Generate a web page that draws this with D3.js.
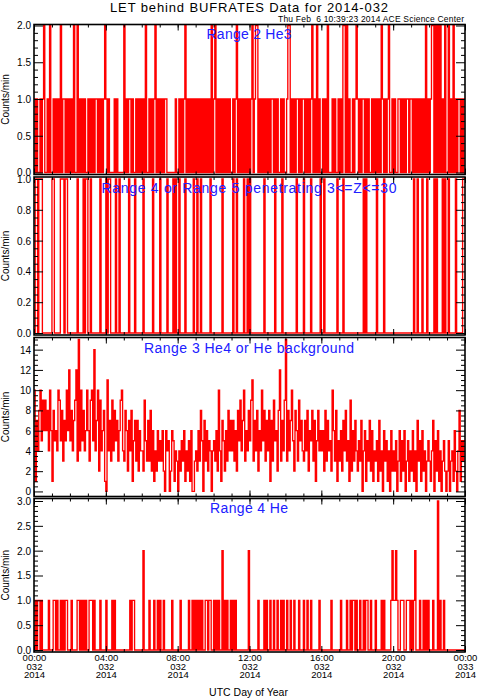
<!DOCTYPE html>
<html>
<head>
<meta charset="utf-8">
<style>
body { margin: 0; background: #fff; }
text { font-family: "Liberation Sans", Arial, sans-serif; }
</style>
</head>
<body>
<svg id="chart"></svg>
<script src="https://d3js.org/d3.v7.min.js"></script>
<script>

// one string per UTC hour, one character per 4 minute bin (hex counts/min)
const BIN = 4;

const range2He3 = [
  "101001012001020", "010101020110101", "010200201010100", "101010110101012",
  "101000010100000", "201011010010101", "010200101012010", "101011000000010",
  "010101201010101", "010101010101020", "120101010101010", "010120101010101",
  "012012201010101", "010110101001010", "012201010110101", "101010120102010",
  "010102000101001", "010220201001012", "101011010100101", "010102101012001",
  "010011010101101", "101010101010201", "012202020201020", "020102010110101"
];

const range45Pen = [
  "011011100000000", "110000011101100", "000000100001011", "001000000010000",
  "101100001001000", "000010000100000", "010000000100000", "100000100001010",
  "010000100000010", "010010000000100", "000000010000000", "010010000010010",
  "100000000000100", "000000100000100", "000000000100000", "100000100000001",
  "001000000000010", "000100000000000", "000001010000000", "010000010000000",
  "000000000000000", "001001000100010", "000010100001010", "010000010000011"
];

const range3He4 = [
  "a1748a5969684a6", "18564a958375a6c", "58479c3f4a5846a", "639a5e47a294681",
  "0b47394857369a4", "386274815737264", "429537382614263", "536206450265143",
  "042536142516003", "426385073625404", "5362a4175263847", "4736285947a3648",
  "59b3748264a5837", "4817395628c3749", "f3847a528639574", "374826583715846",
  "462837452a63815", "362748351926374", "253704615372614", "351724063514062",
  "425036152603514", "261407351624035", "314705261403520", "250341620481535"
];

const range4He = [
  "010110100000100", "011010010101100", "010000110101010", "011101000010000",
  "100001010000000", "000001011000000", "020000100010010", "100100000010000",
  "001000000100101", "010101001101100", "101010020101001", "010100000000002",
  "000000010000101", "001001001001010", "010010010001000", "100100100000010",
  "000000001000000", "010000100101101", "001001011001000", "100001010000012",
  "112100111001110", "101200010010101", "000100030100100", "000000000000000"
];

const panelTitles = [
  "Range 2 He3",
  "Range 4 or Range 5 penetrating 3<=Z<=30",
  "Range 3 He4 or He background",
  "Range 4 He"
];

const yTicks1 = [0, 0.5, 1, 1.5, 2];
const yTicks2 = [0, 0.2, 0.4, 0.6, 0.8, 1];
const yTicks3 = [0, 2, 4, 6, 8, 10, 12, 14];
const yTicks4 = [0, 0.5, 1, 1.5, 2, 2.5, 3];

const xTickTimes = ["00:00", "04:00", "08:00", "12:00", "16:00", "20:00", "00:00"];
const xTickDays  = ["032", "032", "032", "032", "032", "032", "033"];
const xTickYears = ["2014", "2014", "2014", "2014", "2014", "2014", "2014"];

const W = 478, H = 700;
const svg = d3.select("#chart").attr("width", W).attr("height", H);
svg.append("rect").attr("width", W).attr("height", H).attr("fill", "#fff");

let x = d3.scaleLinear().domain([0, 1440]).range([34, 465]);

let panels = [
  {rows: range2He3, top: 24.5, bottom: 174.5, domain: [0, 2], range: [172.5, 25.5],
   ticks: yTicks1, minor: 0.1, fmt: d3.format(".1f"), title: panelTitles[0], ty: 38.5, tw: 85},
  {rows: range45Pen, top: 177, bottom: 335, domain: [0, 1], range: [333, 179],
   ticks: yTicks2, minor: 0.05, fmt: d3.format(".1f"), title: panelTitles[1], ty: 193, tw: 295},
  {rows: range3He4, top: 337.5, bottom: 496.5, domain: [-0.5, 15.2], range: [496.5, 337.5],
   ticks: yTicks3, minor: 0.5, fmt: d3.format("d"), title: panelTitles[2], ty: 352.5, tw: 210},
  {rows: range4He, top: 498.5, bottom: 652, domain: [0, 3], range: [650, 501],
   ticks: yTicks4, minor: 0.1, fmt: d3.format(".1f"), title: panelTitles[3], ty: 513, tw: 78}
];

const hourMinor = d3.range(0, 1441, 60);
const hourMajor = d3.range(0, 1441, 240);

panels.forEach((p, k) => {
  let y = d3.scaleLinear().domain(p.domain).range(p.range);
  let g = svg.append("g");

  // data as a step line
  let vals = p.rows.join("").split("").map(c => parseInt(c, 16));
  let pts = vals.map((v, i) => [i * BIN, v]);
  pts.push([1440, vals[vals.length - 1]]);

  g.append("clipPath").attr("id", "clip" + k)
    .append("rect")
    .attr("x", 34).attr("y", p.top)
    .attr("width", 431).attr("height", p.bottom - p.top);

  let line = d3.line()
    .x(d => x(d[0]))
    .y(d => y(d[1]))
    .curve(d3.curveStepAfter);

  g.append("path")
    .datum(pts)
    .attr("clip-path", "url(#clip" + k + ")")
    .attr("fill", "none")
    .attr("stroke", "#ff0000")
    .attr("stroke-width", 1.35)
    .attr("d", line);

  // y axes, ticks pointing inward on both sides
  let minors = d3.range(Math.ceil(p.domain[0] / p.minor) * p.minor, p.domain[1] + 1e-6, p.minor)
    .filter(v => v >= 0 && !p.ticks.some(t => Math.abs(t - v) < 1e-6));

  g.append("g").attr("transform", "translate(34,0)")
    .call(d3.axisLeft(y).tickValues(p.ticks).tickSize(-9).tickPadding(3).tickFormat(p.fmt));
  g.append("g").attr("transform", "translate(34,0)")
    .call(d3.axisLeft(y).tickValues(minors).tickSize(-4).tickFormat(""));
  g.append("g").attr("transform", "translate(465,0)")
    .call(d3.axisRight(y).tickValues(p.ticks).tickSize(-9).tickFormat(""));
  g.append("g").attr("transform", "translate(465,0)")
    .call(d3.axisRight(y).tickValues(minors).tickSize(-4).tickFormat(""));

  // x axes top and bottom
  g.append("g").attr("transform", "translate(0," + p.bottom + ")")
    .call(d3.axisBottom(x).tickValues(hourMinor).tickSize(-3).tickFormat(""));
  g.append("g").attr("transform", "translate(0," + p.bottom + ")")
    .call(d3.axisBottom(x).tickValues(hourMajor).tickSize(-6).tickFormat(""))
    .attr("class", k === 3 ? "xlab" : null);
  g.append("g").attr("transform", "translate(0," + p.top + ")")
    .call(d3.axisTop(x).tickValues(hourMinor).tickSize(-3).tickFormat(""));
  g.append("g").attr("transform", "translate(0," + p.top + ")")
    .call(d3.axisTop(x).tickValues(hourMajor).tickSize(-6).tickFormat(""));

  g.selectAll(".domain").remove();
  g.selectAll(".tick line").attr("stroke", "#000").attr("stroke-width", 1);
  g.selectAll(".tick text")
    .attr("fill", "#000")
    .attr("dy", "0.34em")
    .style("font-family", "'Liberation Sans', Arial, sans-serif")
    .style("font-size", "10px");

  // frame
  g.append("rect")
    .attr("x", 34).attr("y", p.top)
    .attr("width", 431).attr("height", p.bottom - p.top)
    .attr("fill", "none")
    .attr("stroke", "#000")
    .attr("stroke-width", 1.6);

  g.append("text")
    .attr("x", 249).attr("y", p.ty)
    .attr("text-anchor", "middle")
    .attr("fill", "#2020ff")
    .attr("textLength", p.tw)
    .attr("lengthAdjust", "spacing")
    .style("font-size", "14px")
    .text(p.title);

  g.append("text")
    .attr("transform", "translate(9," + ((p.top + p.bottom) / 2) + ") rotate(-90)")
    .attr("text-anchor", "middle")
    .attr("fill", "#000")
    .style("font-size", "10px")
    .text("Counts/min");
});

// multi line date labels under the bottom panel
svg.selectAll(".xlab .tick").each(function(d, i) {
  let t = d3.select(this);
  [xTickTimes[i], xTickDays[i], xTickYears[i]].forEach((s, j) => {
    t.append("text")
      .attr("fill", "#000")
      .attr("text-anchor", "middle")
      .attr("y", 9 + j * 8.6)
      .style("font-size", "9.5px")
      .text(s);
  });
});

svg.append("text")
  .attr("x", 248.5).attr("y", 696)
  .attr("text-anchor", "middle")
  .style("font-size", "10.5px")
  .text("UTC Day of Year");

svg.append("text")
  .attr("x", 249).attr("y", 11.5)
  .attr("text-anchor", "middle")
  .attr("textLength", 278)
  .attr("lengthAdjust", "spacing")
  .style("font-size", "13px")
  .text("LET behind BUFRATES Data for 2014-032");

svg.append("text")
  .attr("x", 464).attr("y", 22)
  .attr("text-anchor", "end")
  .attr("textLength", 186)
  .attr("lengthAdjust", "spacing")
  .style("font-size", "8.5px")
  .style("white-space", "pre")
  .text("Thu Feb  6 10:39:23 2014 ACE Science Center");

</script>
</body>
</html>
